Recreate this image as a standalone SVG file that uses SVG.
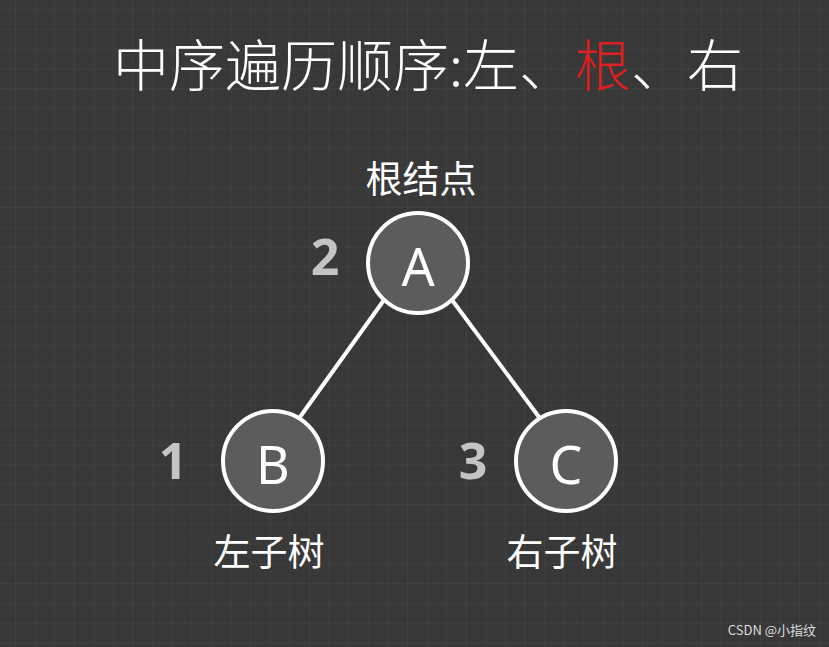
<svg xmlns="http://www.w3.org/2000/svg" width="829" height="647" viewBox="0 0 829 647">
<defs>
<pattern id="g" width="19.6" height="19.8" patternUnits="userSpaceOnUse" x="15" y="9">
<path d="M0 0H19.6M0 0V19.8" fill="none" stroke="#464646" stroke-width="1"/>
</pattern>
<style>
.n{fill:#5c5c5c;stroke:#fff;stroke-width:4}
.l{fill:#fff;font-family:"Noto Sans","Noto Sans CJK SC",sans-serif;font-size:52px;text-anchor:middle}
.num{fill:#c4c4c4;font-family:"Noto Sans",sans-serif;font-weight:bold;font-size:50px;text-anchor:middle}
.c{fill:#fff;font-family:"Noto Sans CJK SC",sans-serif;font-size:37px;text-anchor:middle}
</style>
</defs>
<rect width="829" height="647" fill="#383838"/>
<rect width="829" height="647" fill="url(#g)"/>
<text x="428" y="86" fill="#fff" font-family="Noto Sans CJK SC,sans-serif" font-weight="300" font-size="56" text-anchor="middle">中序遍历顺序:左、<tspan fill="#e02020">根</tspan>、右</text>
<g id="edges" stroke="#fff" stroke-width="4">
<line x1="384" y1="300" x2="300" y2="417"/>
<line x1="452" y1="300" x2="539" y2="417"/>
</g>
<g id="A"><circle class="n" cx="418" cy="263" r="50"/><text class="l" x="418" y="286">A</text><text class="num" x="325" y="275">2</text><text class="c" x="421" y="193">根结点</text></g>
<g id="B"><circle class="n" cx="273" cy="461" r="50"/><text class="l" x="273" y="484">B</text><text class="num" x="173" y="479">1</text><text class="c" x="269" y="566">左子树</text></g>
<g id="C"><circle class="n" cx="566" cy="461" r="50"/><text class="l" x="566" y="484">C</text><text class="num" x="473" y="479">3</text><text class="c" x="562" y="566">右子树</text></g>
<text x="816" y="635" fill="#ddd" font-family="Noto Sans CJK SC,sans-serif" font-size="13" text-anchor="end">CSDN @小指纹</text>
</svg>
